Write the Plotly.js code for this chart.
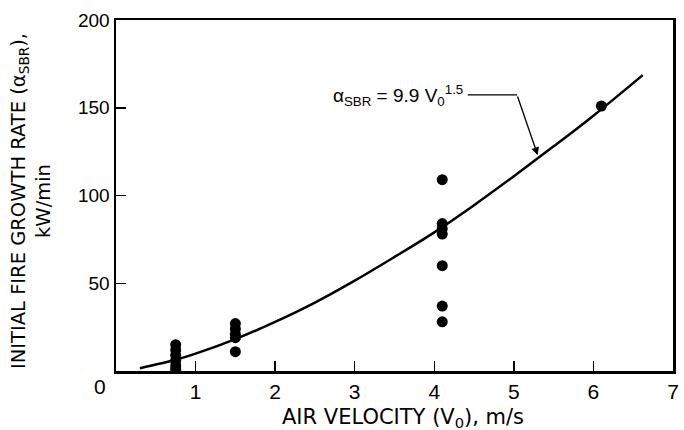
<!DOCTYPE html>
<html>
<head>
<meta charset="utf-8">
<script src="https://cdn.plot.ly/plotly-3.0.1.min.js"></script>
<style>html,body{margin:0;padding:0;background:#fff;}#chart{width:684px;height:430px;}</style>
</head>
<body>
<div id="chart"></div>
<script>
// Measured data points (air velocity m/s, initial fire growth rate kW/min)
const pointsX = [0.75, 0.75, 0.75, 0.75, 0.75, 0.75,
                 1.5, 1.5, 1.5, 1.5, 1.5,
                 4.1, 4.1, 4.1, 4.1, 4.1, 4.1, 4.1,
                 6.1];
const pointsY = [15, 12, 9, 6, 3, 1,
                 27, 24, 21, 19, 11,
                 109, 84, 81, 78, 60, 37, 28,
                 151];
// Correlation curve
const curveX = [0.3, 0.75, 1.0, 1.5, 2.0, 2.5, 3.0, 3.5, 4.0, 4.5, 5.0, 5.5, 6.0, 6.62];
const curveY = [1.6, 6.4, 9.9, 18.2, 28, 39, 51.5, 65, 79, 94.5, 111, 128, 145.5, 168.6];
// Tick labels
const xTickVals = [1, 2, 3, 4, 5, 6, 7];
const xTickText = ["1", "2", "3", "4", "5", "6", "7"];
const yTickVals = [50, 100, 150, 200];
const yTickText = ["50", "100", "150", "200"];

const font = "Liberation Sans, Arial, Helvetica, sans-serif";
const wideFont = "DejaVu Sans, Verdana, sans-serif";

const traces = [
  {x: curveX, y: curveY, mode: "lines", type: "scatter", line: {color: "#000", width: 2.5, shape: "spline"}, hoverinfo: "skip"},
  {x: pointsX, y: pointsY, mode: "markers", type: "scatter", marker: {color: "#000", size: 11}}
];

const layout = {
  width: 684, height: 430,
  margin: {l: 116, r: 11, t: 20, b: 59},
  paper_bgcolor: "#fff", plot_bgcolor: "#fff",
  showlegend: false,
  font: {family: font, color: "#000", size: 18},
  xaxis: {
    range: [0, 7], showgrid: false, zeroline: false,
    showline: true, mirror: true, linecolor: "#000", linewidth: 2.5,
    ticks: "inside", ticklen: 10, tickwidth: 1.5, tickcolor: "#000",
    tickvals: xTickVals, ticktext: xTickText,
    tickfont: {family: font, size: 21, color: "#000"}
  },
  yaxis: {
    range: [0, 200], showgrid: false, zeroline: false,
    showline: true, mirror: true, linecolor: "#000", linewidth: 2.5,
    ticks: "inside", ticklen: 10, tickwidth: 1.5, tickcolor: "#000",
    tickvals: yTickVals, ticktext: yTickText,
    tickfont: {family: font, size: 19, color: "#000"}
  },
  shapes: [
    {type: "line", xref: "x", yref: "y", x0: 4.42, y0: 157.3, x1: 5.04, y1: 157.3, line: {color: "#000", width: 1.3}}
  ],
  annotations: [
    {xref: "x", yref: "y", x: 5.30, y: 123, ax: 5.04, ay: 157.3, axref: "x", ayref: "y",
     text: "", showarrow: true, arrowhead: 2, arrowsize: 1.2, arrowwidth: 1.3, arrowcolor: "#000"},
    {xref: "x", yref: "y", x: 4.38, y: 157, xanchor: "right", yanchor: "middle", showarrow: false,
     text: "α<sub>SBR</sub> = 9.9 V<sub>0</sub><sup>1.5</sup>", font: {family: font, size: 19, color: "#000"}},
    {xref: "paper", yref: "paper", x: (403 - 116) / 557, y: (371 - 418) / 351, xanchor: "center", yanchor: "middle", showarrow: false,
     text: "AIR VELOCITY (V<sub>0</sub>), m/s", font: {family: wideFont, size: 21, color: "#000"}},
    {xref: "paper", yref: "paper", x: (31 - 116) / 557, y: (371 - 201) / 351, xanchor: "center", yanchor: "middle", showarrow: false,
     textangle: -90, text: "INITIAL FIRE GROWTH RATE (α<sub>SBR</sub>),<br>kW/min", font: {family: wideFont, size: 19.5, color: "#000"}},
    {xref: "paper", yref: "paper", x: (100 - 116) / 557, y: (371 - 386) / 351, xanchor: "center", yanchor: "middle", showarrow: false,
     text: "0", font: {family: font, size: 21, color: "#000"}}
  ]
};

Plotly.newPlot("chart", traces, layout, {displayModeBar: false, staticPlot: true});
</script>
</body>
</html>
